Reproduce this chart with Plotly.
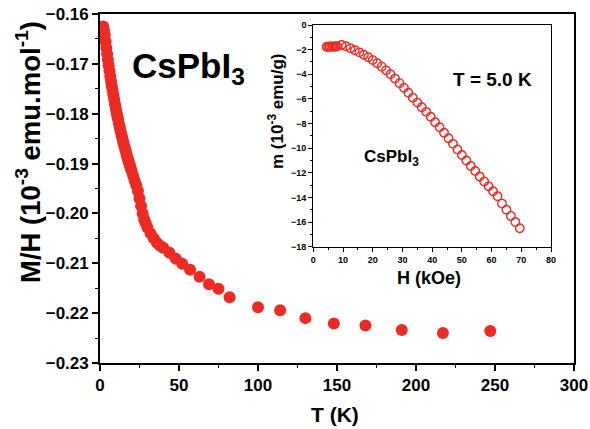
import plotly.graph_objects as go

# Susceptibility M/H versus temperature
temp_K = [2.0, 2.5, 3.0, 3.5, 4.0, 4.5, 5.0, 5.5, 6.0, 6.5, 7.0, 7.5, 8.0, 8.5,
          9.0, 9.5, 10.0, 10.5, 11.0, 11.5, 12.0, 12.5, 13.0, 13.5, 14.0, 14.5,
          15.0, 15.5, 16.0, 16.5, 17.0, 17.5, 18.0, 18.5, 19.0, 19.5, 20.0,
          21.0, 22.0, 23.0, 24.0, 25.0, 26.0, 27.0, 28.0, 29.0, 30.0, 32.0,
          34.0, 36.0, 38.0, 40.0, 44.0, 48.0, 52.0, 57.0, 63.0, 69.0, 75.0,
          82.0, 100.0, 114.0, 130.0, 148.0, 168.0, 191.0, 217.0, 247.0]
m_over_h = [-0.1625, -0.1632, -0.1642, -0.1655, -0.1668, -0.1680, -0.1692,
            -0.1703, -0.1714, -0.1725, -0.1735, -0.1745, -0.1754, -0.1763,
            -0.1772, -0.1781, -0.1789, -0.1797, -0.1805, -0.1812, -0.1820,
            -0.1827, -0.1834, -0.1841, -0.1847, -0.1854, -0.1860, -0.1866,
            -0.1872, -0.1878, -0.1884, -0.1889, -0.1895, -0.1900, -0.1905,
            -0.1910, -0.1915, -0.1925, -0.1935, -0.1944, -0.1955, -0.1970,
            -0.1985, -0.2000, -0.2012, -0.2020, -0.2028, -0.2040, -0.2050,
            -0.2059, -0.2065, -0.2069, -0.2079, -0.2091, -0.2101, -0.2113,
            -0.2127, -0.2142, -0.2151, -0.2168, -0.2188, -0.2194, -0.2210,
            -0.2221, -0.2225, -0.2234, -0.2240, -0.2236]

# Magnetisation versus field at T = 5.0 K
field_kOe = [4.5, 5.0, 5.5, 6.0, 6.5, 7.0, 7.5, 8.0, 9.5, 11.0, 12.5, 14.0,
             15.5, 17.0, 18.5, 20.0, 21.5, 23.0, 24.5, 26.0, 27.5, 29.0, 30.5,
             32.0, 33.5, 35.0, 36.5, 38.0, 39.5, 41.0, 42.5, 44.0, 45.5, 47.0,
             48.5, 50.0, 51.5, 53.0, 54.5, 56.0, 57.5, 59.0, 60.5, 62.0, 63.5,
             65.0, 66.5, 68.0, 69.5]
moment = [-1.76, -1.78, -1.75, -1.77, -1.74, -1.76, -1.75, -1.73, -1.62,
          -1.72, -1.88, -2.05, -2.22, -2.42, -2.62, -2.85, -3.10, -3.38,
          -3.68, -4.00, -4.35, -4.72, -5.10, -5.50, -5.90, -6.30, -6.68,
          -7.05, -7.45, -7.90, -8.30, -8.75, -9.20, -9.65, -10.10, -10.55,
          -11.00, -11.45, -11.85, -12.30, -12.70, -13.10, -13.50, -13.90,
          -14.50, -15.00, -15.50, -16.00, -16.50]

RED = "#EC2B24"
FONT = "Liberation Sans, Arial, sans-serif"

# Figure geometry in pixels
W, H = 590, 429
ML, MR, MT, MB = 100, 16, 14, 66
PW, PH = W - ML - MR, H - MT - MB


def px(x):
    return (x - ML) / PW


def py(y):
    return (H - MB - y) / PH


fig = go.Figure()

fig.add_trace(go.Scatter(
    x=temp_K, y=m_over_h, mode="markers",
    marker=dict(size=12, color=RED, line=dict(width=0)),
    xaxis="x", yaxis="y", showlegend=False,
))

fig.add_trace(go.Scatter(
    x=field_kOe, y=moment, mode="markers",
    marker=dict(size=8.5, color=RED, symbol="circle-open",
                line=dict(width=1.4, color=RED)),
    xaxis="x2", yaxis="y2", showlegend=False,
))

main_ax = dict(
    showline=True, linecolor="black", linewidth=1.7, mirror=True,
    ticks="outside", ticklen=6, tickwidth=1.5, tickcolor="black",
    showgrid=False, zeroline=False, automargin=False,
    tickfont=dict(family=FONT, size=17, color="black", weight="bold"),
)
inset_ax = dict(
    showline=True, linecolor="black", linewidth=1.2, mirror=True,
    ticks="outside", ticklen=4, tickwidth=1.1, tickcolor="black",
    showgrid=False, zeroline=False, automargin=False,
    tickfont=dict(family=FONT, size=9, color="black", weight="bold"),
)

inset_x0, inset_x1 = px(313.3), px(551)
inset_y0, inset_y1 = py(246.7), py(25)

fig.update_layout(
    width=W, height=H,
    margin=dict(l=ML, r=MR, t=MT, b=MB),
    paper_bgcolor="white", plot_bgcolor="white",
    xaxis=dict(range=[0, 300], dtick=50, tick0=0,
               minor=dict(dtick=25, ticklen=3, tickwidth=1.3, ticks="outside",
                          tickcolor="black"),
               **main_ax),
    yaxis=dict(range=[-0.23, -0.16], dtick=0.01, tick0=-0.23, tickformat=".2f",
               minor=dict(dtick=0.005, ticklen=3, tickwidth=1.3, ticks="outside",
                          tickcolor="black"),
               **main_ax),
    xaxis2=dict(domain=[inset_x0, inset_x1], anchor="y2", range=[0, 80],
                dtick=10, tick0=0,
                minor=dict(dtick=5, ticklen=2, tickwidth=1, ticks="outside",
                           tickcolor="black"),
                **inset_ax),
    yaxis2=dict(domain=[inset_y0, inset_y1], anchor="x2", range=[-18, 0],
                dtick=2, tick0=0,
                minor=dict(dtick=1, ticklen=2, tickwidth=1, ticks="outside",
                           tickcolor="black"),
                **inset_ax),
)


def label(text, x, y, size, angle=0):
    fig.add_annotation(
        text=text, x=px(x), y=py(y), xref="paper", yref="paper",
        xanchor="center", yanchor="middle", showarrow=False, textangle=angle,
        font=dict(family=FONT, size=size, color="black", weight="bold"),
    )


label("M/H (10<sup>-3</sup> emu.mol<sup>-1</sup>)", 28, 152, 27.5, -90)
label("T (K)", 335, 414, 21)
label("CsPbI<sub>3</sub>", 188, 68, 35)
label("m (10<sup>-3</sup> emu/g)", 276, 112, 17, -90)
label("H (kOe)", 429, 278, 18)
label("T = 5.0 K", 492, 80, 19)
label("CsPbI<sub>3</sub>", 391, 158, 17)

fig.write_html("out.html")
